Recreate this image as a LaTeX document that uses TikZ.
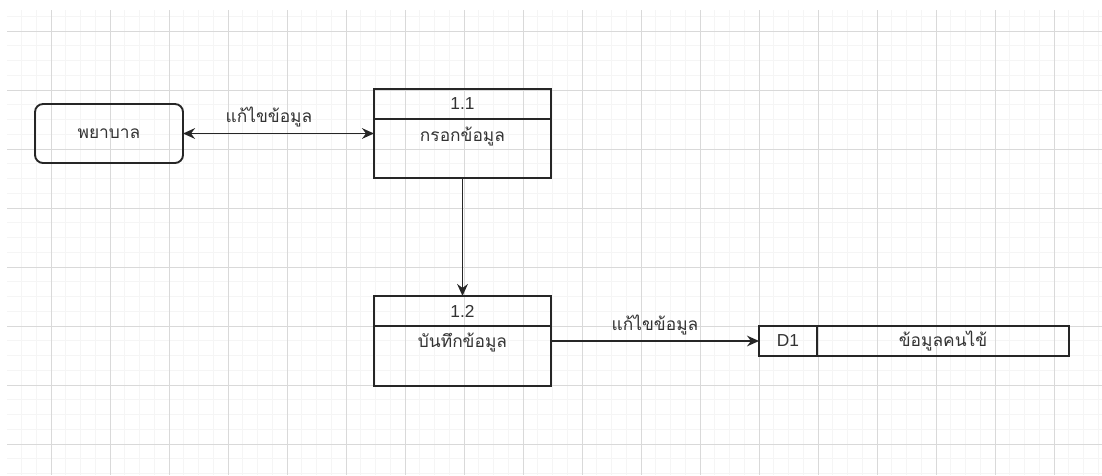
\documentclass[tikz,border=0pt]{standalone}
\usepackage{fontspec}
\setmainfont{Liberation Sans}
\newfontfamily\thaifont[Script=Thai]{Loma}
\usetikzlibrary{positioning,arrows.meta}

\begin{document}
\begin{tikzpicture}[
    x=0.75pt,y=-0.75pt,
    box/.style={rectangle,draw=black!85,line width=1.4pt,outer sep=0pt},
    entity/.style={box,rounded corners=6pt,minimum width=111pt,minimum height=44.25pt,font=\thaifont\fontsize{13}{15}\selectfont,text=black!80},
    prochead/.style={box,minimum width=132.75pt,minimum height=22.5pt,font=\fontsize{13}{15}\selectfont,text=black!80},
    procbody/.style={box,minimum width=132.75pt,minimum height=44.25pt},
    storeid/.style={box,minimum width=43.5pt,minimum height=22.5pt,font=\fontsize{13}{15}\selectfont,text=black!80},
    storename/.style={box,minimum width=189pt,minimum height=22.5pt,font=\thaifont\fontsize{13}{15}\selectfont,text=black!80},
    thtext/.style={font=\thaifont\fontsize{13}{15}\selectfont,text=black!80,inner sep=1pt},
    flow/.style={line width=1.4pt,draw=black!85,-{Stealth[length=9pt,width=8pt,inset=3pt]}},
    bothflow/.style={flow,{Stealth[length=9pt,width=8pt,inset=3pt]}-{Stealth[length=9pt,width=8pt,inset=3pt]}}
]
    \useasboundingbox (0,0) rectangle (1102,475);
    \fill[white] (0,0) rectangle (1102,475);

    % background grid
    \begin{scope}
        \clip (7,10) rectangle (1102,475);
        \foreach \i in {0,...,76} {
            \draw[black!4,line width=0.6pt] (-8+14.75*\i,10) -- (-8+14.75*\i,475);
        }
        \foreach \j in {0,...,33} {
            \draw[black!4,line width=0.6pt] (7,1.5+14.75*\j) -- (1102,1.5+14.75*\j);
        }
        \foreach \i in {0,...,19} {
            \draw[black!15,line width=0.6pt] (-8+59*\i,10) -- (-8+59*\i,475);
        }
        \foreach \j in {0,...,8} {
            \draw[black!15,line width=0.6pt] (7,31+59*\j) -- (1102,31+59*\j);
        }
    \end{scope}

    % external entity
    \node[entity] (nurse) at (109,133.5) {พยาบาล};

    % process 1.1
    \node[prochead] (p11h) at (462.5,104) {1.1};
    \node[procbody,below=0pt of p11h] (p11) {};
    \node[thtext] (p11t) at (462.5,137) {กรอกข้อมูล};

    % process 1.2
    \node[prochead] (p12h) at (462.5,311) {1.2};
    \node[procbody,minimum height=45pt,below=0pt of p12h] (p12) {};
    \node[thtext] (p12t) at (462.5,343) {บันทึกข้อมูล};

    % data store
    \node[storeid] (d1) at (788,341) {D1};
    \node[storename,right=0pt of d1] (d1name) {ข้อมูลคนไข้};

    % data flows
    \draw[bothflow] (nurse.east) -- (nurse.east -| p11.west)
        node[thtext,pos=0.45,above=3pt] {แก้ไขข้อมูล};
    \draw[flow] (p11.south) -- (p12h.north);
    \draw[flow] (d1.west -| p12.east) -- (d1.west)
        node[thtext,midway,above=3pt] {แก้ไขข้อมูล};
\end{tikzpicture}
\end{document}
